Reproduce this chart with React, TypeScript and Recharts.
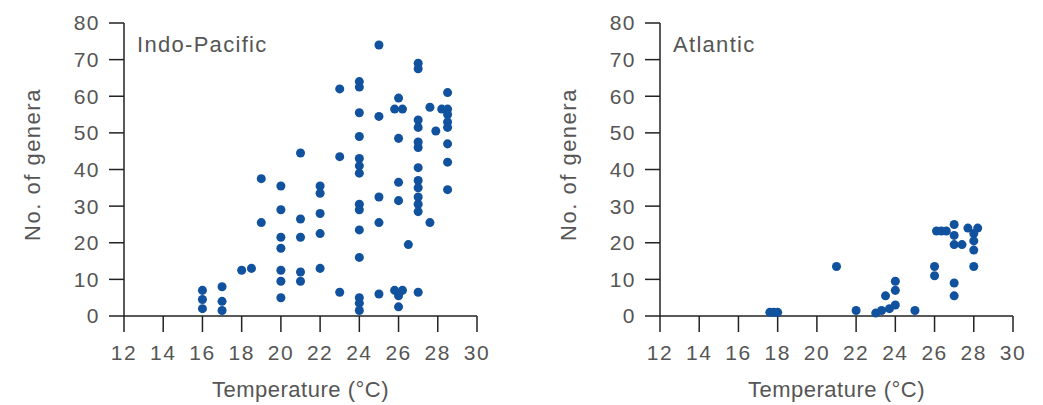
import { ScatterChart, Scatter, XAxis, YAxis, ZAxis } from "recharts";

// temperature ticks and genera ticks shared by both panels
const tempTicks = [12, 14, 16, 18, 20, 22, 24, 26, 28, 30];
const generaTicks = [0, 10, 20, 30, 40, 50, 60, 70, 80];

// Indo-Pacific: one temperature per column, genera counts in that column
const indoTemps = [16, 17, 18, 18.5, 19, 20, 21, 22, 23, 24, 25, 25.8, 26, 26.2, 26.5, 27, 27.6, 27.9, 28.2, 28.5];
const indoGenera = [
  [7, 4.5, 2],
  [8, 4, 1.5],
  [12.5],
  [13],
  [37.5, 25.5],
  [35.5, 29, 21.5, 18.5, 12.5, 9.5, 5],
  [44.5, 26.5, 21.5, 12, 9.5],
  [35.5, 33.5, 28, 22.5, 13],
  [62, 43.5, 6.5],
  [64, 62.5, 55.5, 49, 43, 41, 39, 30.5, 29, 23.5, 16, 5, 3.5, 1.5],
  [74, 54.5, 32.5, 25.5, 6],
  [56.5, 7],
  [59.5, 48.5, 36.5, 31.5, 5.5, 2.5],
  [56.5, 7],
  [19.5],
  [69, 67.5, 53.5, 51.5, 47.5, 46, 40.5, 37, 35, 32.5, 30.5, 28.5, 6.5],
  [57, 25.5],
  [50.5],
  [56.5],
  [61, 56.5, 55, 53, 51.5, 47, 42, 34.5],
];

// Atlantic
const atlTemps = [17.6, 17.8, 18, 21, 22, 23, 23.3, 23.5, 23.7, 24, 25, 26, 26.1, 26.35, 26.6, 27, 27.4, 27.7, 28, 28.2];
const atlGenera = [
  [1],
  [1],
  [1],
  [13.5],
  [1.5],
  [0.8],
  [1.5],
  [5.5],
  [2],
  [9.5, 7, 3],
  [1.5],
  [13.5, 11],
  [23.2],
  [23.2],
  [23.2],
  [25, 22, 19.5, 9, 5.5],
  [19.5],
  [24],
  [22.5, 20.5, 18, 13.5],
  [24],
];

const textColor = "#555";
const axisColor = "#222";
const dotColor = "#11529f";

function Panel({ title, temps, genera, width }: { title: string; temps: number[]; genera: number[][]; width: number }) {
  const points = temps.flatMap((t, i) => genera[i].map((g) => ({ temp: t, genera: g })));
  return (
    <ScatterChart width={width} height={405} margin={{ top: 23, right: width - 477, bottom: 0, left: 0 }}>
      <XAxis
        type="number"
        dataKey="temp"
        domain={[12, 30]}
        ticks={tempTicks}
        interval={0}
        height={89}
        tickSize={16}
        tickMargin={13}
        axisLine={{ stroke: axisColor, strokeWidth: 1.5 }}
        tickLine={{ stroke: axisColor, strokeWidth: 1.5 }}
        tick={{ fill: textColor, fontSize: 21, letterSpacing: 1.5 }}
        label={{ value: "Temperature (°C)", position: "insideBottom", offset: 8, fill: textColor, fontSize: 22, letterSpacing: 0.5 }}
      />
      <YAxis
        type="number"
        dataKey="genera"
        domain={[0, 80]}
        ticks={generaTicks}
        interval={0}
        width={124}
        tickSize={15}
        tickMargin={9}
        axisLine={{ stroke: axisColor, strokeWidth: 1.5 }}
        tickLine={{ stroke: axisColor, strokeWidth: 1.5 }}
        tick={{ fill: textColor, fontSize: 21, letterSpacing: 1.5 }}
        label={{
          value: "No. of genera",
          angle: -90,
          position: "insideLeft",
          offset: 32,
          dy: -5,
          fill: textColor,
          fontSize: 22,
          letterSpacing: 1.5,
          style: { textAnchor: "middle" },
        }}
      />
      <ZAxis range={[95, 95]} />
      <Scatter data={points} fill={dotColor} isAnimationActive={false} />
      <text x={137} y={52} fill={textColor} fontSize={22} letterSpacing={1.3}>
        {title}
      </text>
    </ScatterChart>
  );
}

export default function App() {
  return (
    <div
      style={{
        position: "absolute",
        left: 0,
        top: 0,
        width: 1043,
        height: 405,
        background: "#fff",
        fontFamily: "'Liberation Sans', Arial, sans-serif",
      }}
    >
      <div style={{ position: "absolute", left: 0, top: 0 }}>
        <Panel title="Indo-Pacific" temps={indoTemps} genera={indoGenera} width={536} />
      </div>
      <div style={{ position: "absolute", left: 536, top: 0 }}>
        <Panel title="Atlantic" temps={atlTemps} genera={atlGenera} width={507} />
      </div>
    </div>
  );
}
